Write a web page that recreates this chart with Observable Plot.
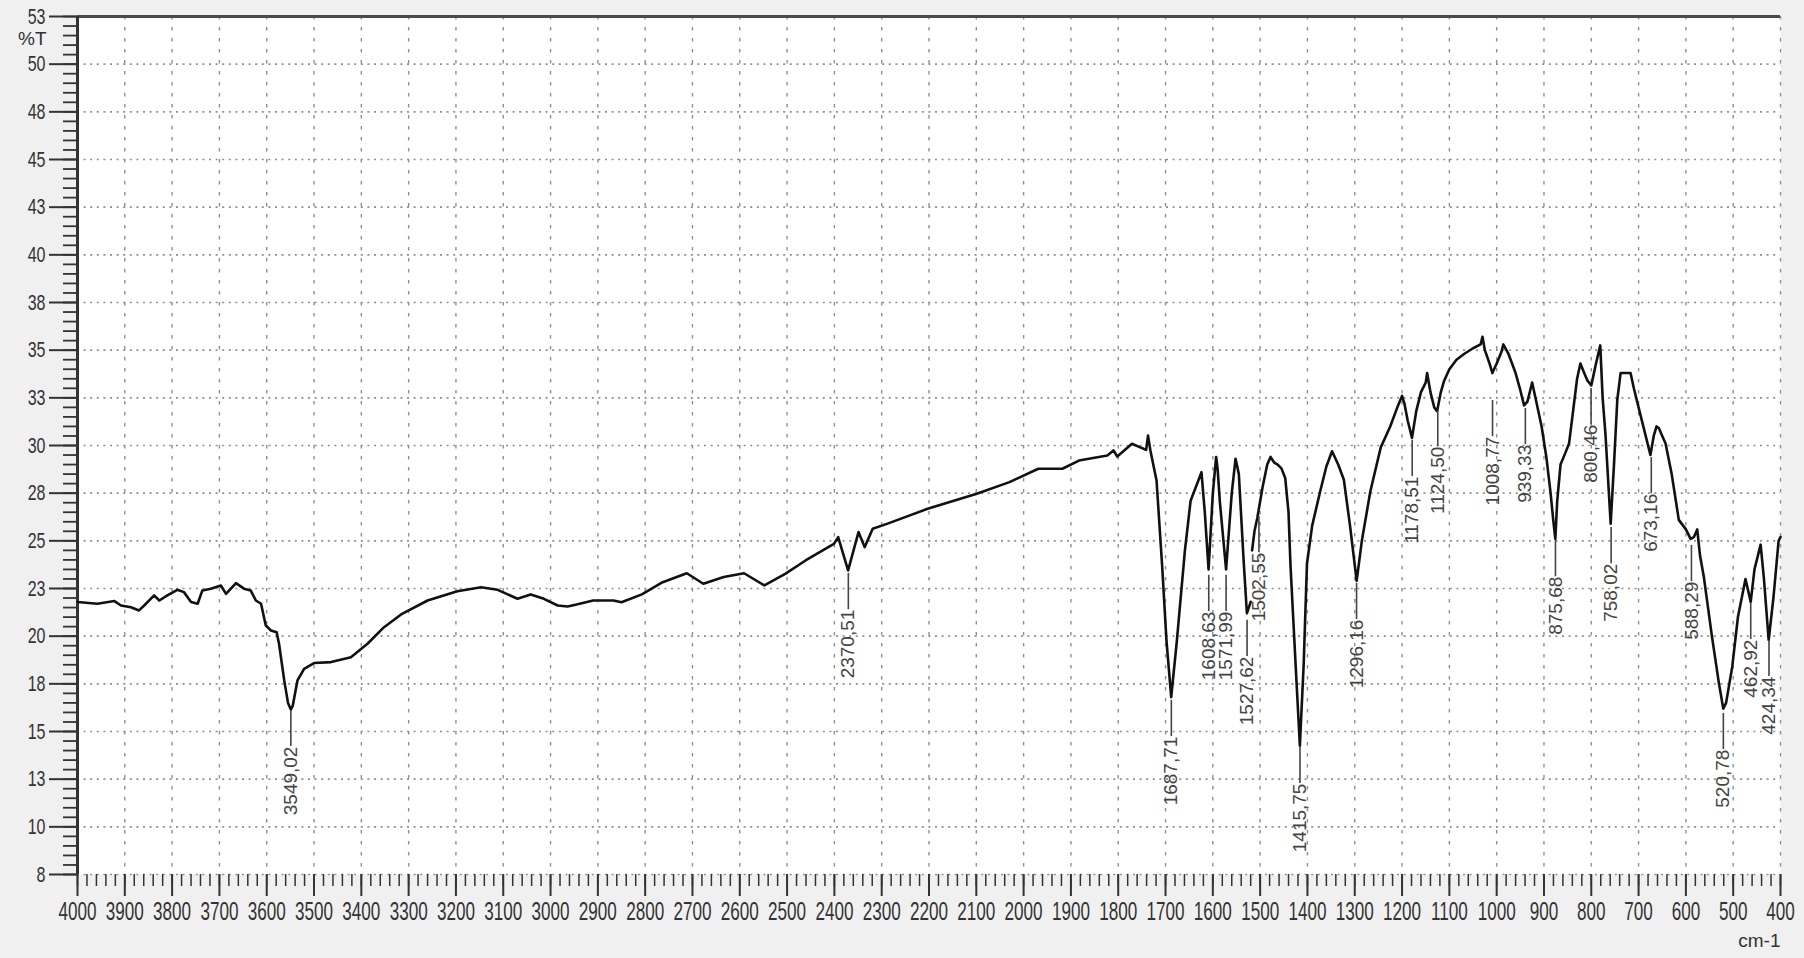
<!DOCTYPE html>
<html>
<head>
<meta charset="utf-8">
<script src="https://cdn.jsdelivr.net/npm/d3@7"></script>
<script src="https://cdn.jsdelivr.net/npm/@observablehq/plot@0.6"></script>
<style>
  html, body { margin: 0; padding: 0; background: #f0f0f0; }
  #chart { width: 1804px; height: 958px; }
</style>
</head>
<body>
<div id="chart"></div>
<script>
// ---- spectrum (wavenumber cm-1, %T) ----
const wavenumbers = [4000,3958,3922,3908,3887,3870,3859,3838,3827,3810,3789,3775,3760,3746,3736,3718,3697,3686,3665,3648,3634,3623,3612,3602,3591,3579,3574,3563,3555,3549,3545,3535,3521,3500,3464,3422,3387,3352,3316,3260,3197,3147,3112,3070,3042,3014,2985,2964,
2945,2910,2867,2850,2807,2763,2712,2677,2634,2591,2548,2504,2461,2401,2392,2371,2349,2336,2319,2289,2203,2099,2030,1969,1918,1883,1823,1810,1802,1771,1741,1737,1732,1719,1707,1698,1688,1676,1659,1647,1630,1624,1617,1609,1600,1593,1590,1585,1572,1560,1552,1545,1535,1528,1520,1519,1517,1512,1506,1495,1485,1478,1470,1463,1455,1447,1440,1436,1425,1416,1408,1401,1390,1373,1360,1348,1335,1323,1310,1296,1285,1267,1245,1225,1210,1200,1195,1188,1179,1170,1160,1150,1147,1140,1132,1126,1118,1111,1100,1085,1069,1050,1034,1030,1025,1015,1009,1000,990,986,975,960,950,942,935,928,925,918,905,895,886,880,876,872,865,855,847,840,830,823,815,808,800,790,781,776,770,759,752,745,738,717,710,700,690,675,668,662,657,650,643,630,615,600,590,583,576,570,562,545,530,521,515,502,490,474,463,455,442,435,425,415,404,400];
const transmittance = [21.79,21.70,21.84,21.61,21.52,21.35,21.61,22.14,21.87,22.14,22.43,22.31,21.79,21.70,22.40,22.49,22.66,22.22,22.78,22.49,22.40,21.87,21.70,20.56,20.30,20.21,19.60,17.68,16.50,16.15,16.35,17.68,18.29,18.59,18.64,18.90,19.60,20.47,21.14,21.87,22.36,22.57,22.43,21.96,22.19,21.96,21.61,21.56,
21.66,21.87,21.87,21.78,22.19,22.83,23.30,22.75,23.10,23.30,22.66,23.27,23.97,24.84,25.19,23.45,25.46,24.67,25.63,25.89,26.68,27.47,28.08,28.78,28.78,29.21,29.48,29.74,29.42,30.09,29.77,30.52,29.74,28.17,23.62,19.77,16.80,19.77,24.50,27.10,28.20,28.60,26.50,23.50,27.50,29.40,28.80,27.00,23.50,27.50,29.30,28.50,24.00,21.20,21.80,null,24.50,25.50,26.20,27.80,29.00,29.40,29.10,29.00,28.80,28.30,26.50,23.80,18.50,14.25,18.50,23.80,25.80,27.60,28.90,29.70,29.00,28.20,25.80,22.90,25.00,27.60,29.90,31.00,32.00,32.60,32.20,31.30,30.40,31.80,32.80,33.30,33.80,32.80,32.00,31.80,32.80,33.40,34.00,34.50,34.80,35.10,35.30,35.70,35.00,34.30,33.80,34.30,34.90,35.30,34.80,33.80,32.90,32.10,32.30,33.00,33.30,32.50,31.00,29.40,27.50,26.00,25.10,27.10,29.00,29.60,30.10,31.50,33.50,34.30,33.80,33.40,33.15,34.30,35.25,32.50,30.60,25.90,29.00,32.40,33.80,33.80,33.00,32.00,31.00,29.50,30.50,31.00,30.90,30.50,30.10,28.50,26.10,25.60,25.10,25.20,25.60,24.20,23.10,20.00,17.50,16.20,16.50,18.40,21.00,23.00,21.80,23.50,24.80,23.00,19.80,22.00,25.00,25.20];

// ---- peak annotations ----
const peakWavenumbers = [3549.02,2370.51,1687.71,1608.63,1571.99,1527.62,1502.55,1415.75,1296.16,1178.51,1124.50,1008.77,939.33,875.68,800.46,758.02,673.16,588.29,520.78,462.92,424.34];
const peakLabels = ["3549,02","2370,51","1687,71","1608,63","1571,99","1527,62","1502,55","1415,75","1296,16","1178,51","1124,50","1008,77","939,33","875,68","800,46","758,02","673,16","588,29","520,78","462,92","424,34"];
const peakLabelT = [16.11,23.29,16.63,23.19,23.19,20.83,26.28,14.17,22.77,30.27,31.84,32.36,31.94,25.02,32.99,25.70,29.37,24.76,15.95,21.72,19.78];

// ---- axes ----
const xTicks = [4000,3900,3800,3700,3600,3500,3400,3300,3200,3100,3000,2900,2800,2700,2600,2500,2400,2300,2200,2100,2000,1900,1800,1700,1600,1500,1400,1300,1200,1100,1000,900,800,700,600,500,400];
const yTicks = [7.5,10,12.5,15,17.5,20,22.5,25,27.5,30,32.5,35,37.5,40,42.5,45,47.5,50,52.5];
const xMinor = d3.range(4000, 399, -20);
const yMinor = d3.range(7.5, 52.51, 0.5);

const spectrum = wavenumbers.map((w, i) => ({w, t: transmittance[i]}));
const peaks = peakWavenumbers.map((w, i) => ({w, label: peakLabels[i], top: peakLabelT[i]}));
const DASH = 1.9; // length of the leader dash, in %T units

const ink = "#333";
const svg = Plot.plot({
  width: 1804,
  height: 958,
  marginLeft: 77,
  marginRight: 24,
  marginTop: 16,
  marginBottom: 84,
  style: {background: "#f0f0f0", fontFamily: "'Liberation Sans', Arial, sans-serif", color: ink},
  x: {domain: [4000, 400], label: null},
  y: {domain: [7.5, 52.5], label: null},
  marks: [
    Plot.frame({fill: "white", stroke: "none"}),
    Plot.ruleY(yTicks, {stroke: "#8f8f8f", strokeWidth: 1.6, strokeDasharray: "2,4.6"}),
    Plot.ruleX(xTicks, {stroke: "#8f8f8f", strokeWidth: 1.4, strokeDasharray: "3.5,7.5"}),
    Plot.ruleY([52.5], {stroke: "#4a4a4a", strokeWidth: 3}),
    Plot.ruleX([4000], {stroke: "#333", strokeWidth: 3}),
    // minor ticks
    Plot.axisY(yMinor, {tickSize: 14, tickFormat: () => "", strokeWidth: 1.8, stroke: ink}),
    Plot.axisX(xMinor, {tickSize: 12, tickFormat: () => "", strokeWidth: 1.5, stroke: ink}),
    // major ticks + labels
    Plot.axisY(yTicks, {tickSize: 28, tickPadding: 4, tickFormat: d => String(Math.round(d)), fontSize: 16.5, strokeWidth: 2, stroke: ink, fill: ink}),
    Plot.axisX(xTicks, {tickSize: 22, tickPadding: 5, tickFormat: d => String(d), fontSize: 18, strokeWidth: 2, stroke: ink, fill: ink}),
    Plot.text(["%T"], {frameAnchor: "top-left", text: d => d, dx: -31, dy: 22, textAnchor: "end", lineAnchor: "middle", fontSize: 19, fill: ink, ariaLabel: "y unit"}),
    Plot.text(["cm-1"], {frameAnchor: "bottom-right", text: d => d, dx: 0, dy: 66, textAnchor: "end", lineAnchor: "middle", fontSize: 19, fill: ink, ariaLabel: "x unit"}),
    // spectrum
    Plot.line(spectrum, {x: "w", y: "t", stroke: "#111", strokeWidth: 2.6, strokeLinejoin: "round"}),
    // peak leaders and labels
    Plot.ruleX(peaks, {x: "w", y1: "top", y2: d => d.top - DASH, stroke: "#444", strokeWidth: 1.6}),
    Plot.text(peaks, {x: "w", y: d => d.top - DASH, text: "label", rotate: -90, textAnchor: "end", lineAnchor: "middle", fontSize: 19, fill: "#444", ariaLabel: "peak labels"})
  ]
});
document.getElementById("chart").append(svg);

// stretch glyphs to the tall, narrow look of the instrument printout
function stretch(selector, sx, sy) {
  d3.select(svg).selectAll(selector).each(function () {
    const t = this.getAttribute("transform") || "";
    this.setAttribute("transform", `${t} scale(${sx},${sy})`);
  });
}
stretch('g[aria-label="x-axis tick label"] text', 0.95, 1.45);
stretch('g[aria-label="y-axis tick label"] text', 0.97, 1.35);
stretch('g[aria-label="peak labels"] text', 1.25, 1);
stretch('g[aria-label="y unit"] text', 0.85, 1.35);
stretch('g[aria-label="x unit"] text', 0.88, 1.3);
</script>
</body>
</html>
